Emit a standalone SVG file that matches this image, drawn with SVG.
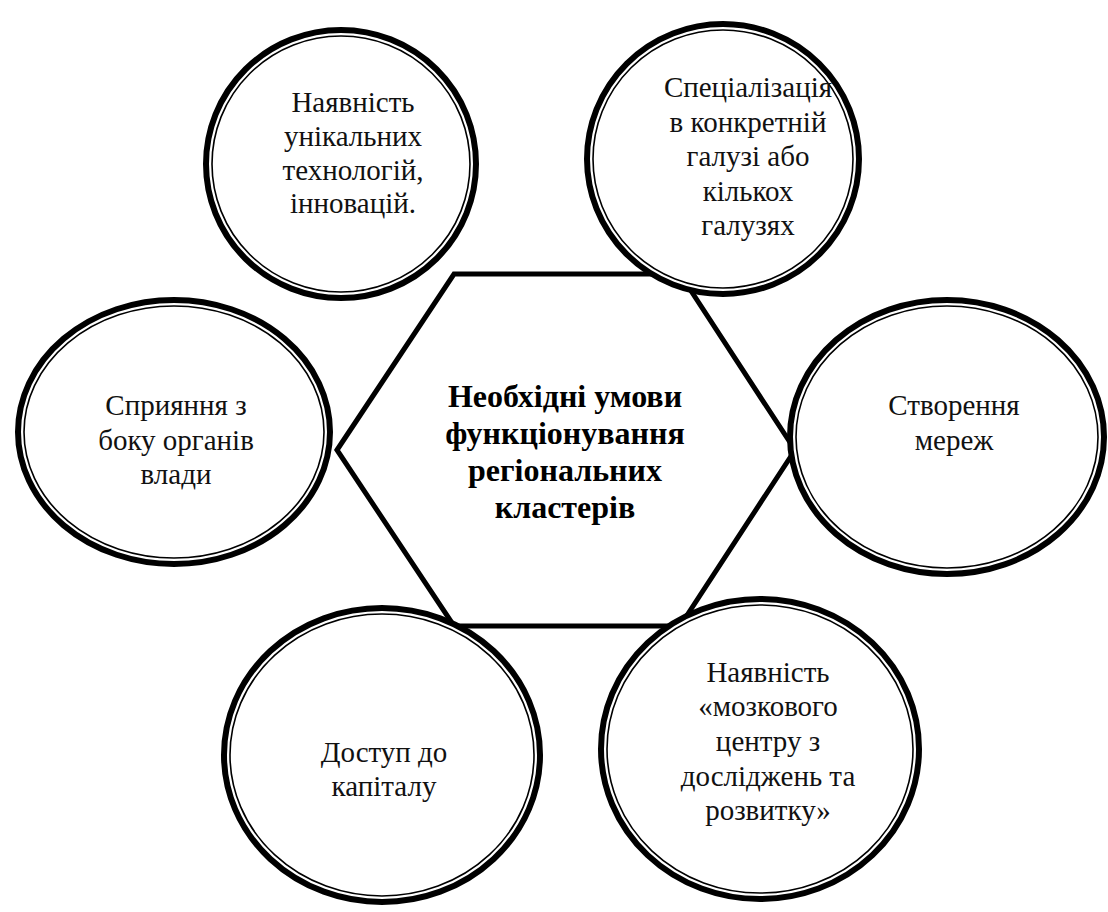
<svg xmlns="http://www.w3.org/2000/svg" width="1108" height="912" viewBox="0 0 1108 912">
<style>
.bg{fill:#ffffff}
.hex{fill:#ffffff;stroke:#000;stroke-width:5;stroke-linejoin:miter}
.ro{fill:#ffffff;stroke:#000;stroke-width:6}
.ri{fill:none;stroke:#000;stroke-width:1.6}
.t{font-family:"Liberation Serif","Times New Roman",serif;font-size:29px;fill:#111;text-anchor:middle}
.tb{font-family:"Liberation Serif","Times New Roman",serif;font-size:32px;font-weight:bold;fill:#000;text-anchor:middle}
</style>
<rect class="bg" x="0" y="0" width="1108" height="912"/>
<g id="connectors"></g>
<g id="center">
<polygon class="hex" points="337,450 454,274 680,274 795,450 680,626 454,626"/>
<text class="tb"><tspan x="565" y="407">Необхідні умови</tspan><tspan x="565" y="444">функціонування</tspan><tspan x="565" y="481">регіональних</tspan><tspan x="565" y="518">кластерів</tspan></text>
</g>
<g id="n-tech">
<ellipse class="ro" cx="341" cy="164" rx="135" ry="134"/>
<ellipse class="ri" cx="341" cy="164" rx="129" ry="128"/>
<text class="t"><tspan x="353" y="112">Наявність</tspan><tspan x="353" y="146">унікальних</tspan><tspan x="353" y="180">технологій,</tspan><tspan x="353" y="213">інновацій.</tspan></text>
</g>
<g id="n-spec">
<ellipse class="ro" cx="723" cy="159" rx="136" ry="135"/>
<ellipse class="ri" cx="723" cy="159" rx="130" ry="129"/>
<text class="t"><tspan x="748" y="97">Спеціалізація</tspan><tspan x="748" y="132">в конкретній</tspan><tspan x="748" y="166">галузі або</tspan><tspan x="748" y="201">кількох</tspan><tspan x="748" y="235">галузях</tspan></text>
</g>
<g id="n-gov">
<ellipse class="ro" cx="174" cy="432" rx="156" ry="132"/>
<ellipse class="ri" cx="174" cy="432" rx="150" ry="126"/>
<text class="t"><tspan x="176" y="415">Сприяння з</tspan><tspan x="176" y="450">боку органів</tspan><tspan x="176" y="484">влади</tspan></text>
</g>
<g id="n-net">
<ellipse class="ro" cx="947" cy="437" rx="157" ry="137"/>
<ellipse class="ri" cx="947" cy="437" rx="151" ry="131"/>
<text class="t"><tspan x="954" y="415">Створення</tspan><tspan x="954" y="450">мереж</tspan></text>
</g>
<g id="n-cap">
<ellipse class="ro" cx="382" cy="755" rx="158" ry="147"/>
<ellipse class="ri" cx="382" cy="755" rx="152" ry="141"/>
<text class="t"><tspan x="384" y="762">Доступ до</tspan><tspan x="384" y="796">капіталу</tspan></text>
</g>
<g id="n-rnd">
<ellipse class="ro" cx="760" cy="749" rx="159" ry="150"/>
<ellipse class="ri" cx="760" cy="749" rx="153" ry="144"/>
<text class="t"><tspan x="768" y="682">Наявність</tspan><tspan x="768" y="716">«мозкового</tspan><tspan x="768" y="751">центру з</tspan><tspan x="768" y="786">досліджень та</tspan><tspan x="768" y="820">розвитку»</tspan></text>
</g>
</svg>
